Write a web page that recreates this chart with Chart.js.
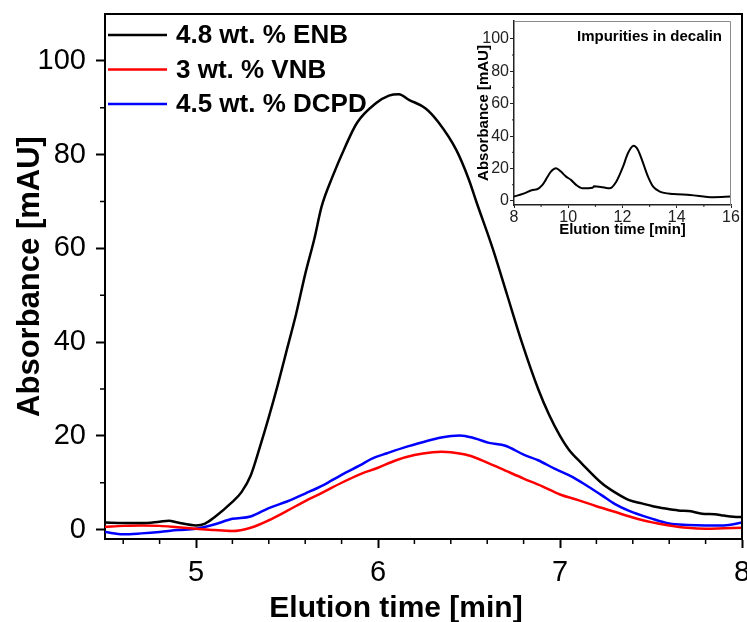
<!DOCTYPE html>
<html>
<head>
<meta charset="utf-8">
<script src="https://cdn.jsdelivr.net/npm/chart.js@4/dist/chart.umd.min.js"></script>
<style>
  html, body { margin: 0; padding: 0; background: #fff; }
  #wrap { position: relative; width: 747px; height: 622px; }
  #main { position: absolute; left: 0; top: 0; }
  #inset { position: absolute; left: 470px; top: 14px; }
</style>
</head>
<body>
<div id="wrap">
  <canvas id="main" width="747" height="622"></canvas>
  <canvas id="inset" width="272" height="236"></canvas>
</div>
<script>
// values
const seriesLabels = ['4.8 wt. % ENB', '3 wt. % VNB', '4.5 wt. % DCPD'];
const seriesColors = ['#000000', '#ff0000', '#0000ff'];

const enbTime = [4.50, 4.60, 4.70, 4.80, 4.85, 4.90, 5.00, 5.05, 5.10, 5.20, 5.25, 5.30, 5.35, 5.40, 5.45,
  5.50, 5.55, 5.60, 5.65, 5.69, 5.75, 5.82, 5.885, 5.99, 6.06, 6.115, 6.17, 6.26, 6.33, 6.43,
  6.50, 6.54, 6.63, 6.71, 6.79, 6.88, 6.94, 7.00, 7.05, 7.12, 7.23, 7.30, 7.38, 7.45, 7.51, 7.58,
  7.65, 7.72, 7.78, 7.85, 7.90, 7.98, 8.00];
const enbAbs = [1.5, 1.4, 1.4, 1.7, 1.9, 1.5, 0.9, 1.3, 2.6, 5.9, 8.0, 11.5, 17.5, 24, 31,
  38.5, 46, 54.5, 62, 68.9, 75.3, 81.7, 86.8, 91.0, 92.6, 92.9, 91.7, 89.9, 87.0, 81.0,
  74.6, 70, 60, 50, 40, 30, 24.5, 20, 17, 14.1, 9.9, 8.0, 6.3, 5.6, 5.0, 4.5,
  4.1, 3.9, 3.4, 3.3, 3.0, 2.7, 2.7];

const vnbTime = [4.50, 4.60, 4.70, 4.80, 4.90, 5.00, 5.10, 5.20, 5.30, 5.40, 5.50, 5.60, 5.70, 5.80,
  5.90, 6.00, 6.10, 6.20, 6.30, 6.35, 6.40, 6.50, 6.60, 6.70, 6.80, 6.90, 7.00, 7.10, 7.20,
  7.30, 7.40, 7.50, 7.60, 7.70, 7.80, 7.90, 8.00];
const vnbAbs = [0.6, 0.8, 0.9, 0.8, 0.5, 0.2, -0.1, -0.3, 0.4, 2.0, 4.0, 6.1, 8.0, 10.0,
  11.8, 13.2, 14.8, 15.9, 16.5, 16.6, 16.5, 15.8, 14.3, 12.6, 10.9, 9.3, 7.5, 6.3, 5.0,
  3.8, 2.6, 1.6, 0.9, 0.4, 0.2, 0.3, 0.4];

const dcpdTime = [4.50, 4.60, 4.70, 4.80, 4.90, 5.00, 5.10, 5.20, 5.30, 5.40, 5.50, 5.60, 5.70, 5.80,
  5.90, 5.97, 6.05, 6.15, 6.25, 6.34, 6.45, 6.53, 6.61, 6.70, 6.80, 6.88, 6.97, 7.07, 7.15,
  7.23, 7.30, 7.38, 7.50, 7.60, 7.70, 7.80, 7.90, 8.00];
const dcpdAbs = [-0.5, -1.0, -0.8, -0.5, -0.1, 0.2, 1.1, 2.3, 2.8, 4.6, 6.0, 7.7, 9.5, 11.7,
  13.7, 15.2, 16.3, 17.6, 18.7, 19.6, 20.1, 19.5, 18.5, 17.9, 16.0, 14.8, 13.0, 11.2, 9.3,
  7.3, 5.5, 4.0, 2.4, 1.3, 1.0, 0.9, 0.9, 1.5];

const decalinTime = [8.0, 8.35, 8.68, 8.85, 9.05, 9.17, 9.36, 9.55, 9.73, 9.92, 10.1, 10.29, 10.53,
  10.9, 10.95, 11.28, 11.52, 11.77, 12.02, 12.2, 12.41, 12.57, 12.76, 12.94, 13.13, 13.38,
  13.87, 14.49, 15.35, 16.0];
const decalinAbs = [2.7, 4.5, 6.8, 7.2, 9.9, 13, 18.1, 20.2, 18.1, 15, 13, 9.9, 7.8,
  8.2, 9.0, 8.4, 7.8, 11.9, 21.2, 29.4, 34, 31.5, 23.3, 15, 8.8, 5.8,
  4.3, 3.7, 2.3, 2.7];

const FONT = '"Liberation Sans", Arial, Helvetica, sans-serif';

const toPoints = (xs, ys) => xs.map((t, i) => ({x: t, y: ys[i]}));

const drawTick = (ctx, x1, y1, x2, y2) => {
  ctx.beginPath(); ctx.moveTo(x1, y1); ctx.lineTo(x2, y2); ctx.stroke();
};

const mainDecor = {
  id: 'mainDecor',
  afterDraw(chart) {
    const {ctx, chartArea: a, scales: {x, y}} = chart;
    ctx.save();
    ctx.strokeStyle = '#000';
    ctx.lineWidth = 2;
    ctx.beginPath();
    ctx.moveTo(a.left - 1, a.top);
    ctx.lineTo(a.right, a.top);
    ctx.lineTo(a.right, a.bottom + 1);
    ctx.stroke();
    // minor ticks
    ctx.lineWidth = 1.5;
    for (let k = 23; k < 40; k++) {
      if (k % 5 === 0) continue;
      const px = x.getPixelForValue(k / 5);
      drawTick(ctx, px, a.bottom, px, a.bottom + 5);
    }
    for (let v = 10; v < 110; v += 20) {
      const py = y.getPixelForValue(v);
      drawTick(ctx, a.left, py, a.left - 5, py);
    }
    // legend in the top-left corner
    ctx.font = 'bold 26px ' + FONT;
    ctx.textBaseline = 'middle';
    ctx.textAlign = 'left';
    chart.data.datasets.forEach((ds, i) => {
      const ly = a.top + 21 + i * 34.5;
      ctx.strokeStyle = ds.borderColor;
      ctx.lineWidth = 2.5;
      drawTick(ctx, a.left + 3, ly, a.left + 62, ly);
      ctx.fillStyle = '#000';
      ctx.fillText(ds.label, a.left + 71, ly + 1);
    });
    // x axis title
    ctx.font = 'bold 30px ' + FONT;
    ctx.textAlign = 'center';
    ctx.textBaseline = 'alphabetic';
    ctx.fillText('Elution time [min]', 396, 617);
    ctx.restore();
  }
};

new Chart(document.getElementById('main'), {
  type: 'line',
  data: {
    datasets: [
      {label: seriesLabels[0], data: toPoints(enbTime, enbAbs), borderColor: seriesColors[0]},
      {label: seriesLabels[1], data: toPoints(vnbTime, vnbAbs), borderColor: seriesColors[1]},
      {label: seriesLabels[2], data: toPoints(dcpdTime, dcpdAbs), borderColor: seriesColors[2]}
    ]
  },
  options: {
    responsive: false,
    animation: false,
    layout: {padding: {top: 14, right: 5, left: 0, bottom: 0}},
    elements: {
      point: {radius: 0},
      line: {borderWidth: 2.5, cubicInterpolationMode: 'monotone', fill: false}
    },
    plugins: {legend: {display: false}, tooltip: {enabled: false}},
    scales: {
      x: {
        type: 'linear', min: 4.5, max: 8,
        afterFit: s => { s.height = 83; s.paddingLeft = 0; s.paddingRight = 0; },
        ticks: {stepSize: 1, includeBounds: false, autoSkip: false, maxRotation: 0,
          padding: 8, color: '#000', font: {family: FONT, size: 29}},
        grid: {drawOnChartArea: false, drawTicks: true, tickLength: 9, tickWidth: 2, tickColor: '#000'},
        border: {display: true, color: '#000', width: 2}
      },
      y: {
        type: 'linear', min: -2, max: 110,
        afterFit: s => { s.width = 105; s.paddingTop = 0; s.paddingBottom = 0; },
        ticks: {stepSize: 20, includeBounds: false, padding: 10, color: '#000',
          font: {family: FONT, size: 29}},
        grid: {drawOnChartArea: false, drawTicks: true, tickLength: 9, tickWidth: 2, tickColor: '#000'},
        border: {display: true, color: '#000', width: 2},
        title: {display: true, text: 'Absorbance [mAU]', color: '#000',
          font: {family: FONT, size: 31, weight: 'bold'}, padding: {top: 12, bottom: 0}}
      }
    }
  },
  plugins: [mainDecor]
});

const insetDecor = {
  id: 'insetDecor',
  afterDraw(chart) {
    const {ctx, chartArea: a, scales: {x, y}} = chart;
    ctx.save();
    ctx.strokeStyle = '#8a8a8a';
    ctx.lineWidth = 1;
    ctx.beginPath();
    ctx.moveTo(a.left, a.top + 0.5);
    ctx.lineTo(a.right - 0.5, a.top + 0.5);
    ctx.lineTo(a.right - 0.5, a.bottom);
    ctx.stroke();
    ctx.strokeStyle = '#222';
    for (let v = 9; v < 16; v += 2) {
      const px = x.getPixelForValue(v);
      drawTick(ctx, px, a.bottom, px, a.bottom + 2);
    }
    for (let v = 10; v < 110; v += 20) {
      const py = y.getPixelForValue(v);
      drawTick(ctx, a.left, py, a.left - 2, py);
    }
    ctx.fillStyle = '#000';
    ctx.font = 'bold 15px ' + FONT;
    ctx.textBaseline = 'middle';
    ctx.textAlign = 'left';
    ctx.fillText('Impurities in decalin', a.left + 63, a.top + 16);
    ctx.restore();
  }
};

new Chart(document.getElementById('inset'), {
  type: 'line',
  data: {
    datasets: [{label: 'Impurities in decalin', data: toPoints(decalinTime, decalinAbs), borderColor: '#000'}]
  },
  options: {
    responsive: false,
    animation: false,
    layout: {padding: {top: 7, right: 11, left: 0, bottom: 0}},
    elements: {
      point: {radius: 0},
      line: {borderWidth: 2, cubicInterpolationMode: 'monotone', fill: false}
    },
    plugins: {legend: {display: false}, tooltip: {enabled: false}},
    scales: {
      x: {
        type: 'linear', min: 8, max: 16,
        afterFit: s => { s.height = 45; s.paddingLeft = 0; s.paddingRight = 0; },
        ticks: {stepSize: 2, includeBounds: false, autoSkip: false, maxRotation: 0,
          padding: 0, color: '#222', font: {family: FONT, size: 16}},
        grid: {drawOnChartArea: false, drawTicks: true, tickLength: 3, tickWidth: 1, tickColor: '#222'},
        border: {display: true, color: '#222', width: 1.5},
        title: {display: true, text: 'Elution time [min]', color: '#000',
          font: {family: FONT, size: 15, weight: 'bold'}, padding: {top: 0, bottom: 11}}
      },
      y: {
        type: 'linear', min: -2.5, max: 111,
        afterFit: s => { s.width = 44; s.paddingTop = 0; s.paddingBottom = 0; },
        ticks: {stepSize: 20, includeBounds: false, padding: 1, color: '#222',
          font: {family: FONT, size: 16}},
        grid: {drawOnChartArea: false, drawTicks: true, tickLength: 4, tickWidth: 1, tickColor: '#222'},
        border: {display: true, color: '#222', width: 1.5},
        title: {display: true, text: 'Absorbance [mAU]', color: '#000',
          font: {family: FONT, size: 15, weight: 'bold'}, padding: {top: 5, bottom: 0}}
      }
    }
  },
  plugins: [insetDecor]
});
</script>
</body>
</html>
